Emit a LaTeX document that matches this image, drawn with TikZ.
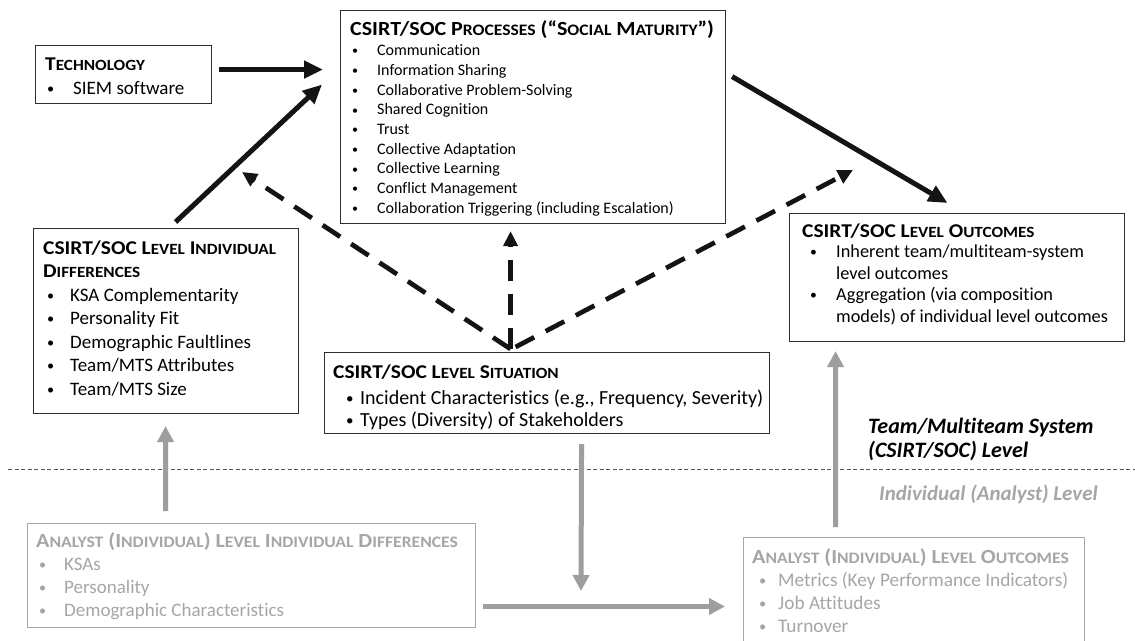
\documentclass[tikz,border=0pt]{standalone}
\usepackage{fontspec}
\usepackage{graphicx}
\setmainfont{Carlito}[Ligatures=NoCommon]
\newfontfamily\hdf[FakeStretch=1.1,Ligatures=NoCommon]{Carlito}
\usetikzlibrary{arrows.meta,calc}
\definecolor{lg}{HTML}{A6A6A6}
\definecolor{ga}{HTML}{9E9E9E}
\definecolor{bd}{HTML}{2E2E2E}
\definecolor{dl}{HTML}{555555}
\makeatletter
\newcommand\fsc[1]{{\fontsize{\fpeval{0.8*\f@size}}{\f@baselineskip}\selectfont #1}}
\makeatother
\newlength\bulx
\newlength\bulw
\newcommand\bul{\raisebox{0.05em}{\scalebox{0.75}{\textbullet}}}
\newcommand\bi[1]{\hbox{\hspace*{\bulx}\makebox[\bulw][l]{\bul}#1}}
\newcommand\bc[1]{\hbox{\hspace*{\bulx}\hspace*{\bulw}#1}}
\newcommand\tl[2]{\vtop{\baselineskip=#1\lineskiplimit=-50pt\lineskip=0pt #2}}
\newcommand\hd[2]{\hbox{\fontsize{#1}{#1}\selectfont\hdf\bfseries #2}}
\begin{document}
\begin{tikzpicture}[x=1pt,y=-1pt,
  box/.style={draw=bd, line width=1.1pt, inner sep=0pt, anchor=north west},
  gbox/.style={draw=lg, line width=1pt, inner sep=0pt, anchor=north west},
  txt/.style={inner sep=0pt, anchor=base west, text=black},
  gtxt/.style={inner sep=0pt, anchor=base west, text=lg},
  blk/.style={line width=5pt, draw=black!92, -{Triangle[length=19pt,width=17pt]}},
  dsh/.style={line width=4.7pt, draw=black!92, dash pattern=on 21pt off 13pt, -{Triangle[length=15pt,width=14pt]}},
  gar/.style={line width=5pt, draw=ga, -{Triangle[length=16pt,width=16pt]}},
  sep/.style={line width=0.9pt, draw=dl, dash pattern=on 4pt off 2.5pt}
]
\fill[white] (0,0) rectangle (1135,640);
\useasboundingbox (0,0) rectangle (1135,640);

% level separator
\draw[sep] (8,469) -- (1135,469);

% boxes
\node[box, minimum width=176pt, minimum height=58pt] (tech) at (35,45) {};
\node[box, minimum width=385pt, minimum height=213pt] (proc) at (340,10) {};
\node[box, minimum width=265pt, minimum height=185pt] (ltd) at (33,228) {};
\node[box, minimum width=445pt, minimum height=81pt] (sit) at (324,352) {};
\node[box, minimum width=335pt, minimum height=128pt] (out) at (789,213) {};
\node[gbox, minimum width=448pt, minimum height=104pt] (aid) at (27,523) {};
\node[gbox, minimum width=341pt, minimum height=113pt] (aout) at (743,537) {};

% texts
\node[txt] (techt) at (45,70) {\fontsize{19}{24}\selectfont\bulx=2pt\bulw=26pt
  \tl{24pt}{\hd{19.5}{T\fsc{ECHNOLOGY}}\bi{SIEM software}}};

\node[txt] (proct) at (350,35) {\fontsize{16}{19.7}\selectfont\bulx=2pt\bulw=25pt
  \tl{19.7pt}{\hd{20}{CSIRT/SOC P\fsc{ROCESSES} (“S\fsc{OCIAL} M\fsc{ATURITY}”)}\vskip1pt
  \bi{Communication}\bi{Information Sharing}\bi{Collaborative Problem-Solving}\bi{Shared Cognition}\bi{Trust}\bi{Collective Adaptation}\bi{Collective Learning}\bi{Conflict Management}\bi{Collaboration Triggering (including Escalation)}}};

\node[txt] (ltdt) at (43,254) {\fontsize{19}{23.5}\selectfont\bulx=4pt\bulw=23pt
  \tl{23.5pt}{\hd{19.5}{CSIRT/SOC L\fsc{EVEL} I\fsc{NDIVIDUAL}}\hd{19.5}{D\fsc{IFFERENCES}}
  \bi{KSA Complementarity}\bi{Personality Fit}\bi{Demographic Faultlines}\bi{Team/MTS Attributes}\bi{Team/MTS Size}}};

\node[txt] (sitt) at (333,378) {\fontsize{20}{22}\selectfont\bulx=13pt\bulw=14pt
  \tl{22pt}{\hd{19.5}{CSIRT/SOC L\fsc{EVEL} S\fsc{ITUATION}}\vskip4pt
  \bi{Incident Characteristics (e.g., Frequency, Severity)}\bi{Types (Diversity) of Stakeholders}}};

\node[txt] (outt) at (802,237) {\fontsize{18.3}{22}\selectfont\bulx=8pt\bulw=26pt
  \tl{22pt}{\hd{19.5}{CSIRT/SOC L\fsc{EVEL} O\fsc{UTCOMES}}\vskip-2pt
  \bi{Inherent team/multiteam-system}\bc{level outcomes}\vskip-1pt\bi{Aggregation (via composition}\bc{models) of individual level outcomes}}};

\node[gtxt] (aidt) at (36,547) {\fontsize{19}{23.3}\selectfont\bulx=3pt\bulw=25pt
  \tl{23.3pt}{\hd{20}{A\fsc{NALYST} (I\fsc{NDIVIDUAL}) L\fsc{EVEL} I\fsc{NDIVIDUAL} D\fsc{IFFERENCES}}
  \bi{KSAs}\bi{Personality}\bi{Demographic Characteristics}}};

\node[gtxt] (aoutt) at (752,563) {\fontsize{19.3}{23}\selectfont\bulx=7pt\bulw=19pt
  \tl{23pt}{\hd{20}{A\fsc{NALYST} (I\fsc{NDIVIDUAL}) L\fsc{EVEL} O\fsc{UTCOMES}}
  \bi{Metrics (Key Performance Indicators)}\bi{Job Attitudes}\bi{Turnover}}};

% level labels
\node[txt] (lvlT) at (868,433) {\fontsize{22}{24}\selectfont\bfseries\itshape
  \tl{24pt}{\hbox{Team/Multiteam System}\hbox{(CSIRT/SOC) Level}}};
\node[gtxt] (lvlI) at (879,500) {\fontsize{21}{24}\selectfont\bfseries\itshape Individual (Analyst) Level};

% moderator targets
\coordinate (m1) at (242,172);
\coordinate (m2) at (853,170);
\coordinate (m3) at (581,591);

% solid black arrows
\draw[blk] ($(tech.east)+(7,-5)$) -- ($(proc.west)+(-17,-47.5)$);
\draw[blk] ($(ltd.north)+(9.5,-6)$) -- ($(proc.west)+(-18,-32.5)$);
\draw[blk] ($(proc.east)+(6,-40.5)$) -- ($(out.north)+(-9.5,-10)$);

% dashed arrows from situation
\draw[dsh] ($(sit.north)+(-36.5,-3)$) -- (m1);
\draw[dsh] ($(sit.north)+(-36.5,-3)$) -- ($(proc.south)+(-22.5,7)$);
\draw[dsh] ($(sit.north)+(-31.5,-5)$) -- (m2);

% gray arrows
\draw[gar] ($(aid.north)+(-86,-12)$) -- ($(ltd.south)+(-0.5,12)$);
\draw[gar] ($(sit.south)+(34.5,10)$) -- (m3);
\draw[gar] ($(aid.east)+(7,31)$) -- ($(aout.west)+(-18,12.5)$);
\draw[gar] ($(aout.north)+(-78.5,-10)$) -- ($(out.south)+(-121.5,9)$);
\end{tikzpicture}
\end{document}
